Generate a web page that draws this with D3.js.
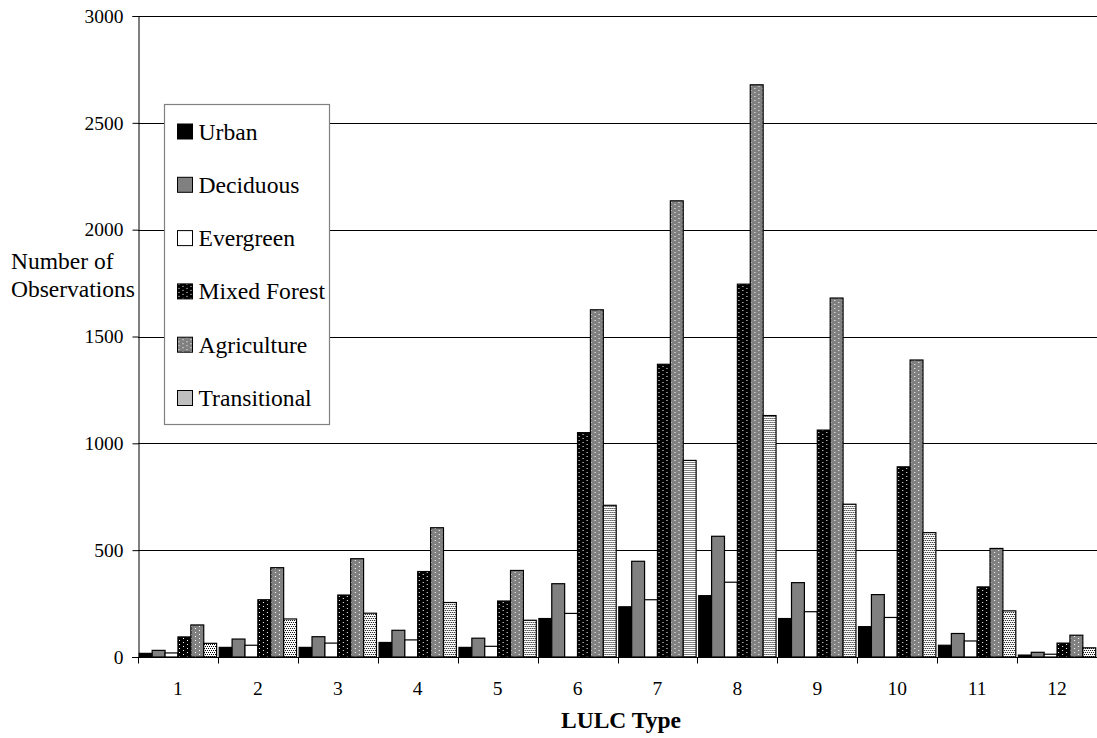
<!DOCTYPE html>
<html>
<head>
<meta charset="utf-8">
<script src="https://cdn.jsdelivr.net/npm/d3@7"></script>
<style>
  html, body { margin: 0; padding: 0; background: #fff; }
</style>
</head>
<body>
<svg id="chart" width="1097" height="738"></svg>
<script>
// LULC types along the x axis
const categories = ["1","2","3","4","5","6","7","8","9","10","11","12"];
const seriesNames = ["Urban","Deciduous","Evergreen","Mixed Forest","Agriculture","Transitional"];

// Number of observations per series, one value per LULC type
const urban        = [17, 45, 45, 68, 45, 180, 235, 287, 180, 142, 55, 9];
const deciduous    = [31, 84, 95, 125, 88, 343, 448, 565, 348, 292, 110, 22];
const evergreen    = [19, 55, 65, 80, 50, 204, 268, 350, 212, 185, 75, 13];
const mixedForest  = [94, 268, 290, 400, 262, 1050, 1370, 1745, 1062, 890, 328, 65];
const agriculture  = [150, 418, 460, 605, 405, 1625, 2135, 2678, 1680, 1390, 508, 102];
const transitional = [64, 178, 205, 255, 172, 710, 920, 1130, 715, 582, 216, 43];

const yTicks = [0, 500, 1000, 1500, 2000, 2500, 3000];

const seriesValues = [urban, deciduous, evergreen, mixedForest, agriculture, transitional];

const FONT = "Liberation Serif";
const svg = d3.select("#chart");
const margin = { left: 138, right: 0, top: 16, bottom: 81 };
const W = 1097, H = 738;

// Fill patterns
const defs = svg.append("defs");
function dotPattern(id, bg, dot, w, h, dots) {
  const p = defs.append("pattern").attr("id", id).attr("patternUnits", "userSpaceOnUse")
    .attr("width", w).attr("height", h);
  p.append("rect").attr("width", w).attr("height", h).attr("fill", bg);
  dots.forEach(([dx, dy]) => p.append("rect").attr("x", dx).attr("y", dy).attr("width", 1).attr("height", 1).attr("fill", dot));
}
dotPattern("pMixed", "#000", "#fff", 8, 4, [[1, 0], [5, 2]]);
dotPattern("pAgri", "#808080", "#fff", 8, 4, [[1, 0], [5, 2]]);
dotPattern("pTrans", "#fff", "#000", 4, 4, [[0, 0], [2, 0], [1, 2], [3, 2]]);

const fills = ["#000", "#808080", "#fff", "url(#pMixed)", "url(#pAgri)", "url(#pTrans)"];

const x = d3.scaleBand().domain(categories).range([margin.left, W - margin.right]).paddingInner(0).paddingOuter(0);
const xs = d3.scaleBand().domain(seriesNames).range([0, x.bandwidth()]).paddingInner(0).paddingOuter(0.1);
const y = d3.scaleLinear().domain([0, 3000]).range([H - margin.bottom, margin.top]);

// Horizontal gridlines
svg.append("g").selectAll("line").data(yTicks.filter(d => d > 0)).join("line")
  .attr("x1", margin.left).attr("x2", W - margin.right)
  .attr("y1", d => Math.round(y(d)) + 0.5).attr("y2", d => Math.round(y(d)) + 0.5)
  .attr("stroke", "#000").attr("stroke-width", 1);

// Bars
const groups = svg.append("g").selectAll("g").data(categories).join("g")
  .attr("transform", c => `translate(${x(c)},0)`);
groups.selectAll("rect").data((c, ci) => seriesNames.map((s, si) => ({ s, si, v: seriesValues[si][ci] })))
  .join("rect")
  .attr("x", d => xs(d.s))
  .attr("width", xs.bandwidth())
  .attr("y", d => y(d.v))
  .attr("height", d => y(0) - y(d.v))
  .attr("fill", d => fills[d.si])
  .attr("stroke", "#000").attr("stroke-width", 1.2);

// Y axis
const yAxis = d3.axisLeft(y).tickValues(yTicks).tickSize(6).tickPadding(9).tickFormat(d3.format("d"));
const gy = svg.append("g").attr("transform", `translate(${margin.left + 0.5},0)`).call(yAxis)
  .attr("font-size", 19.5);
gy.select(".domain").attr("stroke", "#000");
gy.selectAll(".tick line").attr("stroke", "#000");
gy.selectAll("text").attr("fill", "#000");

// X axis: ticks at category boundaries
const gx = svg.append("g").attr("transform", `translate(0,${y(0) + 0.5})`);
gx.append("line").attr("x1", margin.left - 6).attr("x2", W).attr("stroke", "#000");
const bounds = categories.map(c => x(c)).concat([x(categories[categories.length - 1]) + x.bandwidth()]);
gx.selectAll(".bt").data(bounds).join("line").attr("class", "bt")
  .attr("x1", d => Math.round(d) + 0.5).attr("x2", d => Math.round(d) + 0.5)
  .attr("y1", 0).attr("y2", 6).attr("stroke", "#000");
gx.selectAll("text").data(categories).join("text")
  .attr("x", c => x(c) + x.bandwidth() / 2).attr("y", 37)
  .attr("text-anchor", "middle").attr("font-size", 19.5).text(c => c);

// Axis titles
svg.append("text").attr("x", 621).attr("y", 728).attr("text-anchor", "middle")
  .attr("font-size", 23.5).attr("font-weight", "bold").text("LULC Type");
const yt = svg.append("text").attr("font-size", 23.5);
yt.append("tspan").attr("x", 11).attr("y", 269).text("Number of");
yt.append("tspan").attr("x", 11).attr("y", 297).text("Observations");

// Legend
const lg = svg.append("g").attr("transform", "translate(164.5,104.5)");
lg.append("rect").attr("width", 165).attr("height", 320).attr("fill", "#fff").attr("stroke", "#808080").attr("stroke-width", 1.2);
const items = lg.selectAll("g").data(seriesNames).join("g")
  .attr("transform", (d, i) => `translate(13,${19.5 + i * 53.3})`);
items.append("rect").attr("width", 15).attr("height", 15).attr("fill", (d, i) => fills[i]).attr("stroke", "#000");
items.append("text").attr("x", 21).attr("y", 15.5).attr("font-size", 23.6).text(d => d);

// Serif face on every label
svg.selectAll("text").attr("font-family", FONT);
</script>
</body>
</html>
